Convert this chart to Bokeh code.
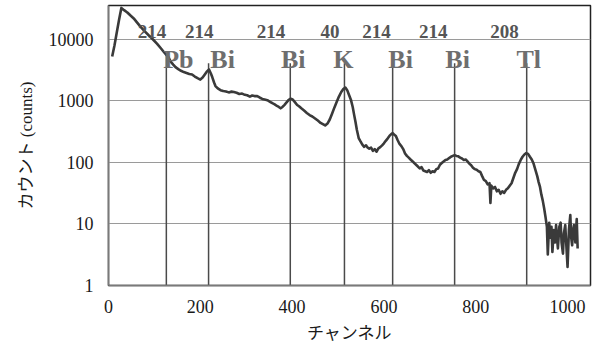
from bokeh.plotting import figure
from bokeh.models import FixedTicker, NumeralTickFormatter, Range1d, ColumnDataSource
from bokeh.core.properties import value
from bokeh.embed import file_html
from bokeh.resources import INLINE

# ---- data ----
channels = [8, 13, 18, 23, 28, 34, 41, 48, 55, 62, 70, 78, 88, 97, 106, 114, 121, 126, 130, 135,
            141, 146, 152, 158, 164, 170, 176, 182, 188, 194, 200, 205, 209, 214, 219, 223, 226, 230, 233, 238,
            244, 250, 256, 262, 268, 273, 279, 285, 291, 297, 302, 308, 313, 318, 324, 330, 335, 340, 346, 352,
            357, 362, 367, 371, 375, 379, 383, 387, 392, 397, 401, 406, 411, 415, 420, 426, 432, 438, 444, 450,
            456, 462, 467, 472, 477, 482, 487, 492, 497, 502, 507, 512, 516, 520, 524, 528, 532, 535, 538, 541,
            545, 549, 553, 557, 561, 564, 568, 572, 576, 580, 584, 588, 592, 596, 600, 604, 608, 612, 616, 619,
            622, 626, 630, 634, 638, 642, 646, 650, 654, 658, 662, 666, 670, 674, 678, 682, 686, 690, 694, 698,
            702, 706, 710, 714, 718, 722, 726, 730, 734, 738, 742, 746, 750, 754, 758, 762, 766, 770, 774, 778,
            782, 786, 790, 794, 798, 802, 806, 810, 814, 818, 822, 826, 830, 832, 834, 838, 842, 846, 850, 854,
            858, 862, 866, 870, 874, 878, 882, 886, 890, 894, 898, 902, 906, 910, 914, 918, 922, 926, 930, 934,
            937, 940, 943, 946, 949, 952, 955, 957, 960, 963, 965, 967, 970, 973, 975, 977, 979, 982, 985, 987,
            990, 992, 995, 997, 1000, 1003, 1006, 1008, 1010, 1012, 1014, 1017, 1020, 1022]
counts = [5300, 8000, 13000, 21000, 32600, 30000, 27500, 24500, 22000, 19000, 16000, 13800, 11600, 10000, 8500, 7200, 6200, 5600, 5300, 4400,
          3900, 3550, 3300, 3100, 2950, 2850, 2750, 2700, 2500, 2350, 2230, 2400, 2650, 3000, 3250, 2800, 2450, 2000, 1750, 1600,
          1500, 1450, 1430, 1380, 1420, 1400, 1360, 1300, 1320, 1260, 1240, 1180, 1230, 1200, 1200, 1130, 1080, 1060, 1030, 970,
          920, 880, 830, 800, 760, 800, 860, 930, 1030, 1090, 1060, 960, 860, 820, 760, 700, 640, 590, 560, 520,
          480, 440, 420, 400, 430, 500, 620, 780, 960, 1180, 1400, 1580, 1650, 1500, 1250, 1050, 800, 600, 460, 340,
          250, 220, 195, 180, 190, 176, 168, 175, 155, 165, 150, 170, 178, 190, 205, 225, 245, 270, 290, 300,
          285, 270, 230, 200, 185, 165, 140, 128, 120, 112, 105, 98, 92, 86, 80, 84, 74, 72, 70, 75,
          68, 72, 70, 78, 80, 92, 98, 104, 110, 112, 118, 124, 128, 132, 128, 126, 120, 116, 110, 112,
          104, 96, 90, 82, 78, 76, 72, 70, 60, 52, 50, 44, 46, 22, 42, 38, 40, 34, 36, 31,
          34, 32, 36, 38, 42, 46, 56, 68, 78, 95, 110, 124, 135, 142, 138, 124, 112, 96, 76, 60,
          48, 40, 30, 24, 18, 13, 9, 3.2, 10.5, 6, 9, 3.5, 8, 5, 9.6, 6, 4, 9, 10.5, 5,
          3.3, 7, 9.6, 5, 2, 8, 14, 6, 4.5, 8, 9.6, 5, 12, 4]

peak_channels = [126, 218, 396, 514, 619, 754, 911]
peak_tops = [5900, 4100, 4100, 4100, 4100, 4100, 4100]
elements = ["Pb", "Bi", "Bi", "K", "Bi", "Bi", "Tl"]
mass_numbers = ["214", "214", "214", "40", "214", "214", "208"]

y_ticks = [1, 10, 100, 1000, 10000]
x_ticks = [0, 200, 400, 600, 800, 1000]

x_label = "チャンネル"
y_label = "カウント (counts)"

# ---- figure ----
p = figure(width=600, height=354, y_axis_type="log",
           x_range=Range1d(0, 1050), y_range=Range1d(1, 35700),
           output_backend="svg", toolbar_location=None,
           min_border_left=108, min_border_right=10, min_border_top=5, min_border_bottom=69)
p.background_fill_color = "white"
p.border_fill_color = "white"
p.outline_line_color = "#222222"
p.outline_line_width = 1.5

# grid
p.xgrid.visible = False
p.ygrid.ticker = FixedTicker(ticks=y_ticks)
p.ygrid.grid_line_color = "#9a9a9a"
p.ygrid.grid_line_width = 1

serif = "Liberation Serif"
mixed = "Liberation Serif, Noto Sans CJK JP"

for ax in (p.xaxis[0], p.yaxis[0]):
    ax.major_tick_in = 0
    ax.major_tick_out = 0
    ax.minor_tick_in = 0
    ax.minor_tick_out = 0
    ax.axis_line_color = "#7a7a7a"
    ax.axis_line_width = 1.5
    ax.major_label_text_font = serif
    ax.major_label_text_font_size = "18px"
    ax.major_label_text_color = "#1a1a1a"
    ax.axis_label_text_font = mixed
    ax.axis_label_text_font_size = "17px"
    ax.axis_label_text_font_style = "normal"
    ax.axis_label_text_color = "#1a1a1a"

p.xaxis.ticker = FixedTicker(ticks=x_ticks)
p.yaxis.ticker = FixedTicker(ticks=y_ticks)
p.yaxis.formatter = NumeralTickFormatter(format="0")
p.xaxis.major_label_standoff = 14
p.yaxis.major_label_standoff = 15
p.xaxis.axis_label = x_label
p.yaxis.axis_label = y_label
p.xaxis.axis_label_standoff = 8
p.yaxis.axis_label_standoff = 10

# peak marker lines
p.segment(x0=peak_channels, y0=[1] * len(peak_channels), x1=peak_channels, y1=peak_tops,
          line_color="#4a4a4a", line_width=1.5)

# spectrum
p.line(channels, counts, line_color="#3a3a3a", line_width=2.6, line_join="round")

# labels
elem_offsets = [12, 14, 3, -1, 8, 3, 2]
mass_offsets = [0, 5, -5, -5, -2, -7, -8]
src = ColumnDataSource(dict(x=peak_channels, el=elements, mass=mass_numbers,
                            ey=[4700] * 7, my=[13500] * 7,
                            eo=elem_offsets, mo=mass_offsets))
p.text(x="x", y="ey", text="el", source=src, x_offset="eo",
       text_font=value(serif), text_font_style="bold", text_font_size="26px",
       text_color="#6e6e6e", text_align="center", text_baseline="alphabetic")
p.text(x="x", y="my", text="mass", source=src, x_offset="mo",
       text_font=value(serif), text_font_style="bold", text_font_size="19px",
       text_color="#555555", text_align="right", text_baseline="alphabetic")

open("out.html", "w").write(file_html(p, INLINE))
